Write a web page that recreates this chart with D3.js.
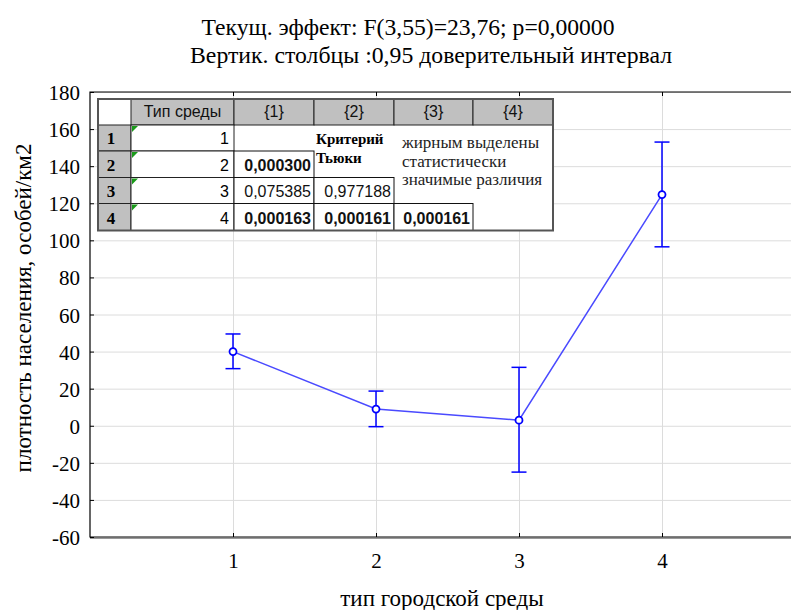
<!DOCTYPE html>
<html>
<head>
<meta charset="utf-8">
<script src="https://cdn.jsdelivr.net/npm/d3@7"></script>
<style>
  body { margin: 0; background: #fff; }
  svg { display: block; }
  .serif { font-family: 'Liberation Serif', 'DejaVu Serif', 'Times New Roman', serif; }
  .sans { font-family: 'Liberation Sans', Arial, sans-serif; }
</style>
</head>
<body>
<script>
// data
const categories = [1, 2, 3, 4]
const means = [40, 9, 3, 124.7]
const ciLow = [30.8, -0.5, -25, 96.5]
const ciHigh = [49.5, 18.7, 31.5, 153]
const yTicks = [-60, -40, -20, 0, 20, 40, 60, 80, 100, 120, 140, 160, 180]

const titleLines = ['Текущ. эффект: F(3,55)=23,76; p=0,00000', 'Вертик. столбцы :0,95 доверительный интервал']
const xTitle = 'тип городской среды'
const yTitle = 'плотность населения, особей/км2'

// Tukey table
const tableHeader = ['Тип среды', '{1}', '{2}', '{3}', '{4}']
const tableRows = ['1', '2', '3', '4']
const pValues = [[], ['0,000300'], ['0,075385', '0,977188'], ['0,000163', '0,000161', '0,000161']]
const pBold = [[], [true], [false, false], [true, true, true]]
const noteTitle = ['Критерий', 'Тьюки']
const noteText = ['жирным выделены', 'статистически', 'значимые различия']

const W = 791, H = 610

const svg = d3.select('body').append('svg').attr('width', W).attr('height', H)

const plot = {left: 90, top: 92, bottom: 537, right: 805}
const x = d3.scaleLinear([0, 5], [plot.left, plot.right])
const y = d3.scaleLinear([-60, 180], [plot.bottom, plot.top])

/* GRID */
svg.append('g').attr('transform', `translate(${plot.left},0)`)
    .call(d3.axisLeft(y).tickValues(yTicks).tickSize(-(W - plot.left)).tickFormat(''))
    .call(g => g.select('.domain').remove())
    .selectAll('line').attr('stroke', '#dcdcdc')
svg.append('g').attr('transform', `translate(0,${plot.bottom})`)
    .call(d3.axisBottom(x).tickValues(categories).tickSize(-(plot.bottom - plot.top)).tickFormat(''))
    .call(g => g.select('.domain').remove())
    .selectAll('line').attr('stroke', '#dcdcdc')

/* FRAME + inward ticks */
svg.append('path').attr('d', `M${W},${plot.top}H${plot.left}V${plot.bottom}H${W}`)
    .attr('fill', 'none').attr('stroke', '#000').attr('stroke-width', 1.2)
svg.append('line').attr('x1', plot.left).attr('x2', W).attr('y1', plot.bottom + 1.5).attr('y2', plot.bottom + 1.5)
    .attr('stroke', '#999').attr('stroke-width', 1)

const yAxis = svg.append('g').attr('transform', `translate(${plot.left},0)`)
    .call(d3.axisLeft(y).tickValues(yTicks).tickSize(-4).tickFormat(d => String(d)))
yAxis.select('.domain').remove()
yAxis.attr('font-family', null)
yAxis.selectAll('line').attr('stroke', '#000')
yAxis.selectAll('text').attr('class', 'serif').attr('font-size', 21).attr('fill', '#000')
    .attr('x', -10).attr('dy', '0.36em')

const xAxis = svg.append('g').attr('transform', `translate(0,${plot.bottom})`)
    .call(d3.axisBottom(x).tickValues(categories).tickSize(-4).tickFormat(d => String(d)))
xAxis.select('.domain').remove()
xAxis.attr('font-family', null)
xAxis.selectAll('line').attr('stroke', '#000')
xAxis.selectAll('text').attr('class', 'serif').attr('font-size', 21).attr('fill', '#000')
    .attr('y', 30.5).attr('dy', 0)
svg.append('g').attr('transform', `translate(0,${plot.top})`)
    .call(d3.axisBottom(x).tickValues(categories).tickSize(4).tickFormat(''))
    .call(g => g.select('.domain').remove())
    .selectAll('line').attr('stroke', '#000')

/* SERIES */
const pts = categories.map((c, i) => ({c, m: means[i], lo: ciLow[i], hi: ciHigh[i]}))
svg.append('path').datum(pts)
    .attr('d', d3.line().x(d => x(d.c)).y(d => y(d.m)))
    .attr('fill', 'none').attr('stroke', '#4a4aff').attr('stroke-width', 1.5)
const eb = svg.append('g').attr('stroke', '#0000ff').attr('stroke-width', 1.5)
eb.selectAll('.v').data(pts).join('line')
    .attr('x1', d => x(d.c)).attr('x2', d => x(d.c)).attr('y1', d => y(d.lo)).attr('y2', d => y(d.hi))
eb.selectAll('.hi').data(pts).join('line')
    .attr('x1', d => x(d.c) - 7.5).attr('x2', d => x(d.c) + 7.5).attr('y1', d => y(d.hi)).attr('y2', d => y(d.hi))
eb.selectAll('.lo').data(pts).join('line')
    .attr('x1', d => x(d.c) - 7.5).attr('x2', d => x(d.c) + 7.5).attr('y1', d => y(d.lo)).attr('y2', d => y(d.lo))
svg.append('g').selectAll('circle').data(pts).join('circle')
    .attr('cx', d => x(d.c)).attr('cy', d => y(d.m)).attr('r', 3.5)
    .attr('fill', '#fff').attr('stroke', '#0000ff').attr('stroke-width', 1.8)

/* TABLE */
const colX = [98, 131, 234, 314, 394, 473, 553]
const rowY = [99, 125, 151, 177.5, 203.5, 230.5]
const tbl = svg.append('g')
tbl.append('rect').attr('x', colX[0]).attr('y', rowY[0]).attr('width', colX[6] - colX[0]).attr('height', rowY[5] - rowY[0])
    .attr('fill', '#fff')
// header row
tbl.selectAll('.hd').data(tableHeader).join('rect')
    .attr('x', (d, i) => colX[i + 1]).attr('y', rowY[0]).attr('width', (d, i) => colX[i + 2] - colX[i + 1])
    .attr('height', rowY[1] - rowY[0]).attr('fill', '#c0c0c0').attr('stroke', '#222').attr('stroke-width', 1)
tbl.selectAll('.hdt').data(tableHeader).join('text')
    .attr('x', (d, i) => (colX[i + 1] + colX[i + 2]) / 2).attr('y', rowY[1] - 8)
    .attr('text-anchor', 'middle').attr('class', 'sans').attr('font-size', 16).attr('fill', '#111')
    .text(d => d)
// row number column
tbl.selectAll('.rn').data(tableRows).join('rect')
    .attr('x', colX[0]).attr('y', (d, i) => rowY[i + 1]).attr('width', colX[1] - colX[0])
    .attr('height', (d, i) => rowY[i + 2] - rowY[i + 1]).attr('fill', '#c0c0c0').attr('stroke', '#222')
tbl.selectAll('.rnt').data(tableRows).join('text')
    .attr('x', 111).attr('y', (d, i) => rowY[i + 2] - 7)
    .attr('text-anchor', 'middle').attr('class', 'serif').attr('font-weight', 'bold').attr('font-size', 17)
    .text(d => d)
// type column
tbl.selectAll('.tc').data(tableRows).join('rect')
    .attr('x', colX[1]).attr('y', (d, i) => rowY[i + 1]).attr('width', colX[2] - colX[1])
    .attr('height', (d, i) => rowY[i + 2] - rowY[i + 1]).attr('fill', '#fff').attr('stroke', '#222')
tbl.selectAll('.tri').data(tableRows).join('path')
    .attr('d', (d, i) => `M${colX[1] + 1},${rowY[i + 1] + 1}h6l-6,6z`).attr('fill', '#1a9a1a')
tbl.selectAll('.tct').data(tableRows).join('text')
    .attr('x', colX[2] - 5).attr('y', (d, i) => rowY[i + 2] - 7)
    .attr('text-anchor', 'end').attr('class', 'sans').attr('font-size', 16).text(d => d)
// p-value cells (lower triangle)
pValues.forEach((row, r) => row.forEach((v, c) => {
    tbl.append('rect').attr('x', colX[c + 2]).attr('y', rowY[r + 1])
        .attr('width', colX[c + 3] - colX[c + 2]).attr('height', rowY[r + 2] - rowY[r + 1])
        .attr('fill', '#fff').attr('stroke', '#111')
    tbl.append('text').attr('x', colX[c + 3] - 3).attr('y', rowY[r + 2] - 7)
        .attr('text-anchor', 'end').attr('class', 'sans').attr('font-size', 16)
        .attr('font-weight', pBold[r][c] ? 'bold' : 'normal').attr('fill', '#111').text(v)
}))
// notes
tbl.selectAll('.nt').data(noteTitle).join('text')
    .attr('x', 316).attr('y', (d, i) => 144 + i * 19)
    .attr('class', 'serif').attr('font-weight', 'bold').attr('font-size', 15).text(d => d)
tbl.selectAll('.nx').data(noteText).join('text')
    .attr('x', 402).attr('y', (d, i) => 148 + i * 18.5)
    .attr('class', 'serif').attr('font-size', 17).attr('fill', '#222').text(d => d)
tbl.append('rect').attr('x', colX[0]).attr('y', rowY[0]).attr('width', colX[6] - colX[0]).attr('height', rowY[5] - rowY[0])
    .attr('fill', 'none').attr('stroke', '#555').attr('stroke-width', 2)

/* TITLES */
svg.selectAll('.title').data(titleLines).join('text')
    .attr('x', (d, i) => [408, 431][i]).attr('y', (d, i) => [35, 63][i])
    .attr('text-anchor', 'middle').attr('class', 'serif').attr('font-size', 23)
    .attr('textLength', (d, i) => [413, 482][i]).attr('lengthAdjust', 'spacingAndGlyphs')
    .text(d => d)
svg.append('text').attr('x', 442).attr('y', 606).attr('text-anchor', 'middle')
    .attr('class', 'serif').attr('font-size', 23).text(xTitle)
svg.append('text').attr('transform', 'translate(31,308) rotate(-90)').attr('text-anchor', 'middle')
    .attr('class', 'serif').attr('font-size', 23).text(yTitle)
</script>
</body>
</html>
